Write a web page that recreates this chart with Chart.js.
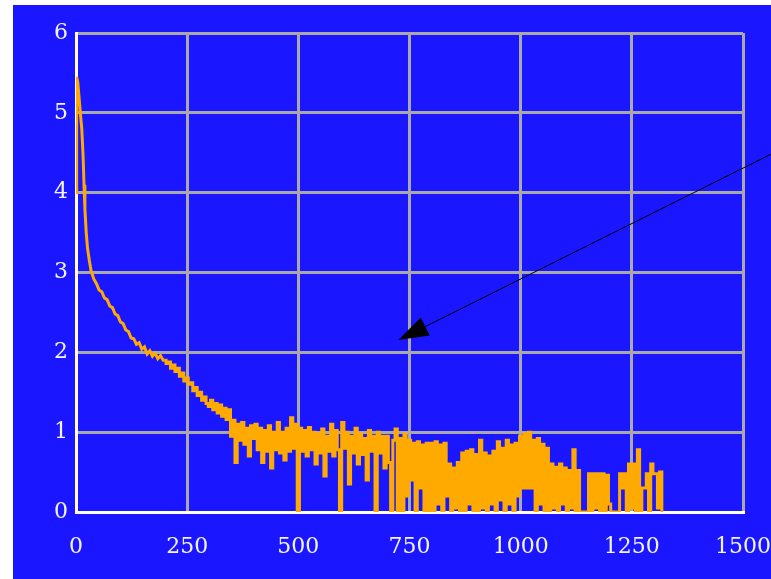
<!DOCTYPE html>
<html>
<head>
<meta charset="utf-8">
<script src="https://cdn.jsdelivr.net/npm/chart.js@4"></script>
<style>
    html, body { margin: 0; padding: 0; background: #ffffff; }
    #wrap { position: absolute; left: 13px; top: 5px; width: 758px; height: 574px; }
</style>
</head>
<body>
<div id="wrap"><canvas id="chart" width="758" height="574"></canvas></div>
<script>
// ==================== Data ====================

// 초기 감쇠 구간 (x, y)
const decayX = [0, 1, 2, 4, 6, 8, 10, 13, 16, 18, 20, 23, 26, 30, 34, 40, 46, 52, 58, 64, 70,
    76, 82, 88, 94, 100, 106, 112, 118, 124, 130, 136, 142, 148, 154, 160, 166, 172, 178, 184, 190, 196, 200];
const decayY = [4.0, 5.3, 5.45, 5.38, 5.25, 5.12, 4.98, 4.8, 4.45, 4.1, 3.8, 3.5, 3.3, 3.15, 3.02, 2.92,
    2.86, 2.78, 2.76, 2.68, 2.66, 2.58, 2.56, 2.48, 2.46, 2.38, 2.36, 2.28, 2.26, 2.18, 2.17, 2.1,
    2.12, 2.04, 2.07, 1.98, 2.02, 1.95, 1.99, 1.92, 1.96, 1.9, 1.9];

// 노이즈 구간: x = 200 부터 5 간격 (계단형)
const noisyStart = 200;
const noisyStep = 5;
const noisy200 = [1.9, 1.86, 1.88, 1.8, 1.84, 1.76, 1.8, 1.7, 1.74, 1.64, 1.68, 1.6, 1.62, 1.52, 1.56, 1.46, 1.5, 1.4, 1.44, 1.36];
const noisy300 = [1.32, 1.4, 1.28, 1.36, 1.24, 1.34, 1.2, 1.3, 1.16, 1.28, 0.95, 1.15, 0.62, 1.1, 0.9, 1.12, 0.85, 1.05, 0.7, 1.08];
const noisy400 = [0.92, 1.1, 0.78, 1.05, 0.62, 1.02, 0.76, 1.08, 0.55, 1.0, 0.78, 1.12, 0.74, 1.0, 0.65, 1.05, 0.76, 1.18, 0.8, 1.1];
const noisy500 = [0, 1.05, 0.76, 1.02, 0.7, 1.06, 0.78, 1.0, 0.6, 0.98, 0.74, 1.04, 0.45, 0.95, 0.76, 1.1, 0.7, 1.02, 0.78, 0];
const noisy600 = [1.12, 0.8, 1.0, 0.35, 0.95, 0.74, 1.05, 0.6, 0.98, 0.72, 0.92, 0.4, 1.02, 0.76, 0.95, 0, 1.0, 0.74, 0.95, 0.55];
const noisy700 = [0.95, 0.62, 0, 0.9, 1.04, 0, 0.92, 0, 0.98, 0.2, 0.9, 0.4, 0.86, 0, 0.88, 0.3, 0.84, 0, 0.86, 0];
const noisy800 = [0.86, 0, 0.88, 0.1, 0.84, 0, 0.86, 0.2, 0.6, 0, 0.55, 0.05, 0.62, 0, 0.74, 0, 0.76, 0.1, 0.78, 0];
const noisy900 = [0.72, 0, 0.9, 0.05, 0.74, 0, 0.7, 0.1, 0.76, 0, 0.88, 0.15, 0.8, 0, 0.9, 0.1, 0.84, 0, 0.86, 0.2];
const noisy1000 = [0.95, 0.3, 0.98, 0.3, 1.0, 0.3, 0.9, 0, 0.92, 0.1, 0.85, 0, 0.8, 0, 0.6, 0.05, 0.56, 0, 0.6, 0.1];
const noisy1100 = [0.55, 0, 0.52, 0.05, 0.78, 0, 0.52, 0, 0, 0, 0, 0.48, 0, 0.48, 0.05, 0.48, 0, 0.48, 0, 0.46];
const noisy1200 = [0.1, 0, 0, 0, 0, 0.48, 0.3, 0.48, 0, 0.6, 0.05, 0.6, 0, 0.78, 0, 0.3, 0.3, 0.48, 0, 0.6];
const noisy1300 = [0.48, 0.48, 0.05, 0.5, 0];

// 축 설정
const xMin = 0, xMax = 1500, xStep = 250;
const yMin = 0, yMax = 6, yStep = 1;

// 화살표 (데이터 좌표)
const arrowTail = { x: 1600, y: 4.585 };
const arrowTip = { x: 725, y: 2.155 };

// ==================== Build points ====================

function buildDecayPoints() {
    return decayX.map((x, i) => ({ x: x, y: decayY[i] }));
}

function buildNoisyPoints() {
    const noisyY = [].concat(noisy200, noisy300, noisy400, noisy500, noisy600, noisy700,
        noisy800, noisy900, noisy1000, noisy1100, noisy1200, noisy1300);
    return noisyY.map((y, i) => ({ x: noisyStart + i * noisyStep, y: y }));
}

// ==================== Plugins ====================

const bgPlugin = {
    id: 'bgFill',
    beforeDraw(chart) {
        const ctx = chart.ctx;
        ctx.save();
        ctx.fillStyle = '#1a16ff';
        ctx.fillRect(0, 0, chart.width, chart.height);
        ctx.restore();
    }
};

const arrowPlugin = {
    id: 'arrow',
    afterDraw(chart) {
        const xs = chart.scales.x, ys = chart.scales.y;
        const x0 = xs.getPixelForValue(arrowTail.x), y0 = ys.getPixelForValue(arrowTail.y);
        const x1 = xs.getPixelForValue(arrowTip.x), y1 = ys.getPixelForValue(arrowTip.y);
        const ang = Math.atan2(y1 - y0, x1 - x0);
        const len = 30, half = 10;
        const bx = x1 - len * Math.cos(ang), by = y1 - len * Math.sin(ang);
        const ctx = chart.ctx;
        ctx.save();
        ctx.strokeStyle = '#000000';
        ctx.lineWidth = 1;
        ctx.beginPath();
        ctx.moveTo(x0, y0);
        ctx.lineTo(bx, by);
        ctx.stroke();
        ctx.fillStyle = '#000000';
        ctx.beginPath();
        ctx.moveTo(x1, y1);
        ctx.lineTo(bx + half * Math.sin(ang), by - half * Math.cos(ang));
        ctx.lineTo(bx - half * Math.sin(ang), by + half * Math.cos(ang));
        ctx.closePath();
        ctx.fill();
        ctx.restore();
    }
};

// ==================== Chart ====================

const tickFont = { family: "'DejaVu Serif', serif", size: 22 };
const lineColor = '#ffaa00';

new Chart(document.getElementById('chart'), {
    type: 'line',
    data: {
        datasets: [{
            data: buildDecayPoints(),
            borderColor: lineColor,
            borderWidth: 3,
            pointRadius: 0,
            tension: 0,
            fill: false
        }, {
            data: buildNoisyPoints(),
            borderColor: lineColor,
            borderWidth: 3,
            pointRadius: 0,
            stepped: 'middle',
            fill: false
        }]
    },
    options: {
        responsive: false,
        animation: false,
        layout: { padding: { left: 0, top: 28, right: 28, bottom: 0 } },
        plugins: {
            legend: { display: false },
            tooltip: { enabled: false }
        },
        scales: {
            x: {
                type: 'linear',
                min: xMin,
                max: xMax,
                afterFit(scale) {
                    scale.height = 67;
                    scale.paddingLeft = 0;
                    scale.paddingRight = 0;
                },
                ticks: {
                    stepSize: xStep,
                    color: '#f4f4ff',
                    font: tickFont,
                    padding: 22,
                    maxRotation: 0,
                    callback: v => String(v)
                },
                grid: {
                    color: ctx => (ctx.tick && ctx.tick.value === xMin ? 'rgba(0,0,0,0)' : '#a9a9a9'),
                    lineWidth: 3,
                    drawTicks: false
                },
                border: { color: '#ffffff', width: 3 }
            },
            y: {
                type: 'linear',
                min: yMin,
                max: yMax,
                afterFit(scale) {
                    scale.width = 63;
                    scale.paddingTop = 0;
                    scale.paddingBottom = 0;
                },
                ticks: {
                    stepSize: yStep,
                    color: '#f4f4ff',
                    font: tickFont,
                    padding: 8,
                    callback: v => String(v)
                },
                grid: {
                    color: ctx => (ctx.tick && ctx.tick.value === yMin ? 'rgba(0,0,0,0)' : '#a9a9a9'),
                    lineWidth: 3,
                    drawTicks: false
                },
                border: { color: '#ffffff', width: 3 }
            }
        }
    },
    plugins: [bgPlugin, arrowPlugin]
});
</script>
</body>
</html>
